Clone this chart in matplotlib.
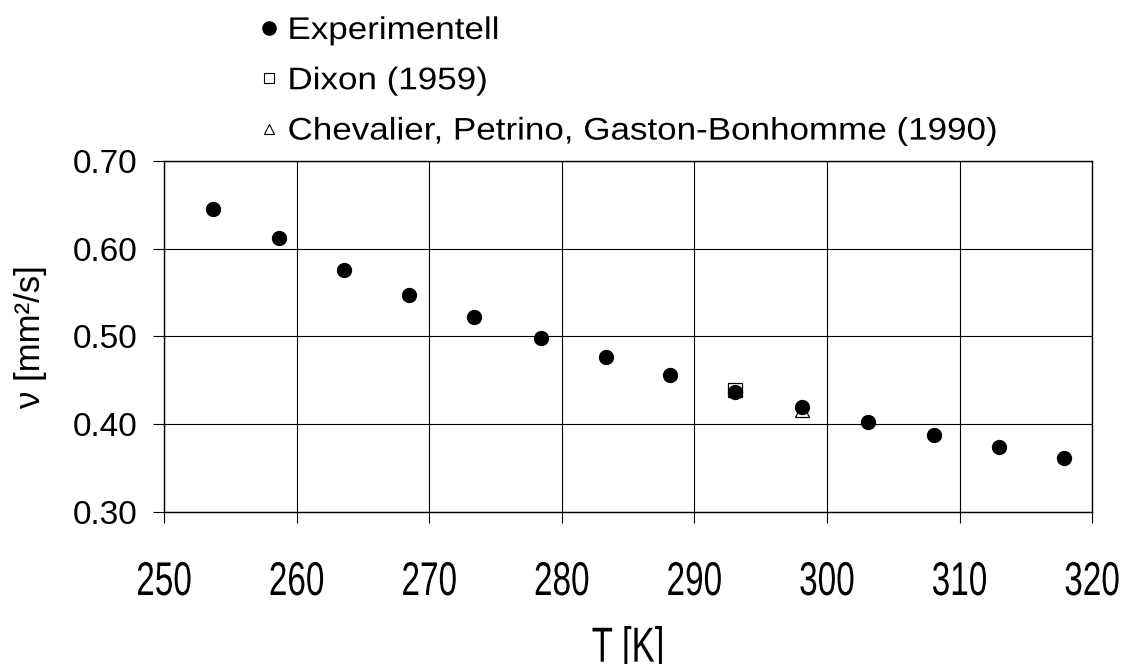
import matplotlib
matplotlib.use('Agg')
import matplotlib.pyplot as plt
from matplotlib.lines import Line2D
from matplotlib.transforms import Affine2D
from matplotlib import patheffects

# measured kinematic viscosity
T_exp = [253.7, 258.7, 263.6, 268.5, 273.4, 278.4, 283.3, 288.2, 293.1, 298.1, 303.1, 308.1, 313.0, 317.9]
nu_exp = [0.645, 0.612, 0.576, 0.547, 0.522, 0.498, 0.476, 0.456, 0.437, 0.420, 0.403, 0.388, 0.374, 0.361]

# literature values
T_dixon = [293.1]
nu_dixon = [0.439]
T_chev = [298.1]
nu_chev = [0.416]

labels = ['Experimentell', 'Dixon (1959)', 'Chevalier, Petrino, Gaston-Bonhomme (1990)']
xticks = [250, 260, 270, 280, 290, 300, 310, 320]
yticks = [0.30, 0.40, 0.50, 0.60, 0.70]


class Stretch(patheffects.AbstractPathEffect):
    """Scale glyphs by (sx, sy) about the left/middle of their ink."""
    def __init__(self, sx=1.0, sy=1.0):
        super().__init__()
        self.sx = sx
        self.sy = sy

    def draw_path(self, renderer, gc, tpath, affine, rgbFace=None):
        ext = tpath.get_extents(affine)
        x0 = ext.x0
        cy = (ext.y0 + ext.y1) / 2
        tr = affine + Affine2D().translate(-x0, -cy).scale(self.sx, self.sy).translate(x0, cy)
        renderer.draw_path(gc, tpath, tr, rgbFace)


plt.rcParams['font.family'] = ['Liberation Sans', 'DejaVu Sans']

fig = plt.figure(figsize=(11.29, 6.64), dpi=100)
ax = fig.add_axes([0.1453, 0.2289, 0.8220, 0.5291])

ax.plot(T_dixon, nu_dixon, ls='none', marker='s', ms=10, mfc='white', mec='black', mew=0.9, zorder=3)
ax.plot(T_chev, nu_chev, ls='none', marker='^', ms=10, mfc='white', mec='black', mew=0.9, zorder=3)
ax.plot(T_exp, nu_exp, ls='none', marker='o', ms=10, color='black', zorder=4)

ax.set_xlim(250, 320)
ax.set_ylim(0.30, 0.70)
ax.set_xticks(xticks)
ax.set_yticks(yticks)
ax.set_yticklabels([f'{v:.2f}' for v in yticks])
ax.grid(True, color='black', lw=0.8)
ax.set_axisbelow(True)
for s in ax.spines.values():
    s.set_linewidth(1.0)

ax.tick_params(direction='out', length=8, width=0.8, labelsize=24)
ax.tick_params(axis='y', pad=11)
ax.tick_params(axis='x', pad=31)
tall = [Stretch(sy=1.42)]
for lab in ax.get_xticklabels():
    lab.set_path_effects(tall)

ax.set_xlabel('T [K]', fontsize=25, labelpad=25, path_effects=tall)
ax.set_ylabel('ν [mm²/s]', fontsize=25, labelpad=19)

handles = [
    Line2D([], [], ls='none', marker='o', ms=9.5, color='black'),
    Line2D([], [], ls='none', marker='s', ms=7.5, mfc='white', mec='black', mew=0.8),
    Line2D([], [], ls='none', marker='^', ms=7.5, mfc='white', mec='black', mew=0.8),
]
leg = fig.legend(handles, labels, loc='upper left', bbox_to_anchor=(0.2294, 0.976),
                 frameon=False, fontsize=22.5, handlelength=0.64, handletextpad=0.28,
                 labelspacing=0.65, borderpad=0, borderaxespad=0)
for t in leg.get_texts():
    t.set_path_effects([Stretch(sx=1.12)])

fig.savefig('out.png', dpi=100)
